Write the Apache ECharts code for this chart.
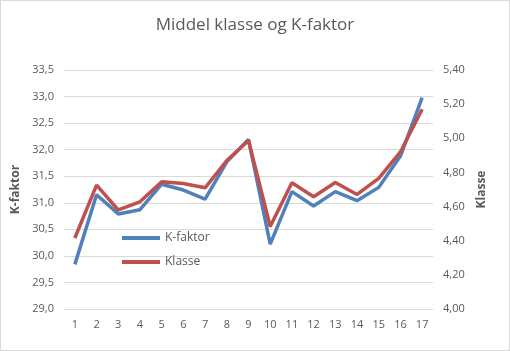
<!DOCTYPE html>
<html><head><meta charset="utf-8">
<script src="https://cdn.jsdelivr.net/npm/echarts@6/dist/echarts.min.js"></script>
<style>html,body{margin:0;padding:0;background:#fff}#c{width:510px;height:351px;box-sizing:border-box;border:1px solid #d9d9d9}</style>
</head><body><div id="c"></div>
<script>
const categories = ['1','2','3','4','5','6','7','8','9','10','11','12','13','14','15','16','17'];
const kFaktor = [29.84,31.15,30.79,30.87,31.35,31.24,31.07,31.77,32.19,30.22,31.21,30.94,31.21,31.04,31.29,31.88,32.98];
const klasse = [4.416,4.726,4.58,4.628,4.745,4.735,4.71,4.87,4.987,4.483,4.739,4.658,4.741,4.671,4.765,4.92,5.17];
const fmt = d => v => v.toFixed(d).replace('.', ',');
const txt = '#595959';
const chart = echarts.init(document.getElementById('c'));
chart.setOption({
  animation:false,
  title:{text:'Middel klasse og K-faktor',left:'center',top:11,textStyle:{fontFamily:'Open Sans',fontWeight:'normal',fontSize:17,color:txt}},
  legend:{orient:'vertical',left:116,top:226,itemWidth:38,itemHeight:4,itemGap:12,icon:'rect',
    textStyle:{fontFamily:'Open Sans',fontSize:12,color:txt},data:['K-faktor','Klasse']},
  grid:{left:63,right:76,top:69,bottom:41},
  xAxis:{type:'category',data:categories,boundaryGap:true,axisLine:{show:false},axisTick:{show:false},
    axisLabel:{color:txt,fontFamily:'Open Sans',fontSize:11,margin:10}},
  yAxis:[
    {type:'value',min:29,max:33.5,interval:0.5,name:'K-faktor',nameLocation:'middle',nameGap:39,
     nameTextStyle:{fontFamily:'Open Sans',fontWeight:'bold',fontSize:12,color:txt},
     axisLabel:{color:txt,fontFamily:'Open Sans',fontSize:11,formatter:fmt(1),margin:10},
     splitLine:{lineStyle:{color:'#d9d9d9'}},axisLine:{show:false},axisTick:{show:false}},
    {type:'value',min:4,max:5.4,interval:0.2,name:'Klasse',nameLocation:'middle',nameGap:40,
     nameTextStyle:{fontFamily:'Open Sans',fontWeight:'bold',fontSize:12,color:txt},
     axisLabel:{color:txt,fontFamily:'Open Sans',fontSize:11,formatter:fmt(2),margin:10},
     splitLine:{show:false},axisLine:{show:false},axisTick:{show:false}}
  ],
  series:[
    {name:'K-faktor',type:'line',yAxisIndex:0,data:kFaktor,symbol:'none',color:'#4F81BD',lineStyle:{width:3.5,color:'#4F81BD'}},
    {name:'Klasse',type:'line',yAxisIndex:1,data:klasse,symbol:'none',color:'#C0504D',lineStyle:{width:3.5,color:'#C0504D'}}
  ]
});
</script></body></html>
